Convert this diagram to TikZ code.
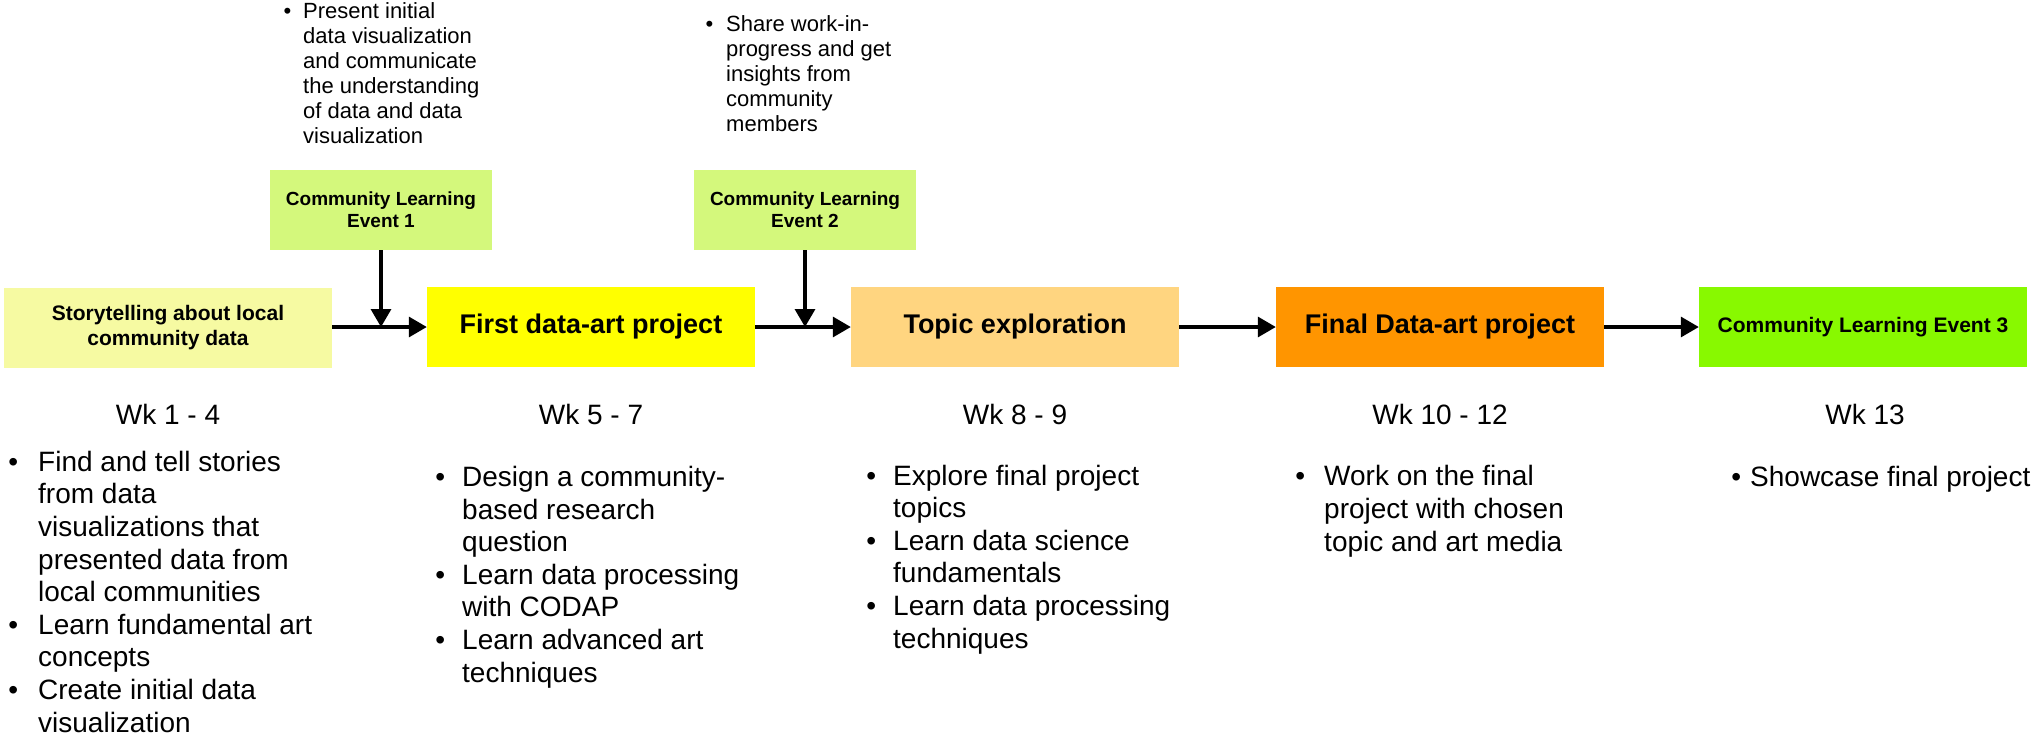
\documentclass[tikz,border=0pt]{standalone}
\usepackage{fontspec}
\setmainfont{Liberation Sans}
\usetikzlibrary{arrows.meta}

\definecolor{storyyellow}{HTML}{F6FAA2}
\definecolor{eventgreen}{HTML}{D4F87C}
\definecolor{projyellow}{HTML}{FFFF00}
\definecolor{topicorange}{HTML}{FFD580}
\definecolor{finalorange}{HTML}{FF9500}
\definecolor{showgreen}{HTML}{88F900}

% bullet hanging to the left of the text
\newcommand{\itm}[1][18pt]{\llap{\textbullet\hspace{#1}}}

\tikzset{
  phase/.style={minimum width=328pt, minimum height=80pt, inner sep=0pt, align=center,
                font=\bfseries\fontsize{27}{31}\selectfont},
  smallphase/.style={phase, font=\bfseries\fontsize{21}{25}\selectfont},
  event/.style={minimum width=222pt, minimum height=80pt, inner sep=0pt, align=center,
                fill=eventgreen, font=\bfseries\fontsize{19}{22}\selectfont},
  week/.style={anchor=base, inner sep=0pt, font=\fontsize{28}{32}\selectfont},
  % multi-line notes: base anchor sits on the last line
  notes/.style={anchor=base west, align=left, inner sep=0pt, font=\fontsize{28}{32.6}\selectfont},
  topnotes/.style={anchor=base west, align=left, inner sep=0pt, font=\fontsize{22}{25}\selectfont},
  flow/.style={line width=3.3pt, -{Triangle[length=18pt,width=20pt]}}
}

\begin{document}
\begin{tikzpicture}[x=1pt,y=-1pt]
	\useasboundingbox (0,0) rectangle (2032,737);

	% phases
	\node[smallphase, fill=storyyellow] (story) at (168,328) {Storytelling about local\\community data};
	\node[phase, fill=projyellow] (first) at (591,327) {First data-art project};
	\node[phase, fill=topicorange] (topic) at (1015,327) {Topic exploration};
	\node[phase, fill=finalorange] (final) at (1440,327) {Final Data-art project};
	\node[smallphase, fill=showgreen] (show) at (1863,327) {Community Learning Event 3};

	% community events
	\node[event] (cle1) at (381,210) {Community Learning\\Event 1};
	\node[event] (cle2) at (805,210) {Community Learning\\Event 2};

	\draw[flow] (story.east |- first.west) -- (first.west);
	\draw[flow] (first.east) -- (topic.west);
	\draw[flow] (topic.east) -- (final.west);
	\draw[flow] (final.east) -- (show.west);

	\coordinate (j1) at (cle1.south |- first.west);
	\coordinate (j2) at (cle2.south |- first.east);
	\draw[flow] (cle1.south) -- (j1);
	\draw[flow] (cle2.south) -- (j2);

	% event notes
	\node[topnotes] (note1) at (303,143) {\itm[12pt]Present initial\\data visualization\\and communicate\\the understanding\\of data and data\\visualization};
	\node[topnotes] (note2) at (726,131) {\itm[13pt]Share work-in-\\progress and get\\insights from\\community\\members};

	% weeks
	\node[week] (wk1) at (168,424) {Wk 1 - 4};
	\node[week] (wk2) at (591,424) {Wk 5 - 7};
	\node[week] (wk3) at (1015,424) {Wk 8 - 9};
	\node[week] (wk4) at (1440,424) {Wk 10 - 12};
	\node[week] (wk5) at (1865,424) {Wk 13};

	% activities
	\node[notes] (act1) at (38,732) {\itm[20pt]Find and tell stories\\from data\\visualizations that\\presented data from\\local communities\\
		\itm[20pt]Learn fundamental art\\concepts\\ \itm[20pt]Create initial data\\visualization};
	\node[notes] (act2) at (462,682) {\itm[17pt]Design a community-\\based research\\question\\
		\itm[17pt]Learn data processing\\with CODAP\\ \itm[17pt]Learn advanced art\\techniques};
	\node[notes] (act3) at (893,648) {\itm[17pt]Explore final project\\topics\\ \itm[17pt]Learn data science\\fundamentals\\
		\itm[17pt]Learn data processing\\techniques};
	\node[notes] (act4) at (1324,551) {\itm[19pt]Work on the final\\project with chosen\\topic and art media};
	\node[notes] (act5) at (1750,486) {\itm[9pt]Showcase final project};
\end{tikzpicture}
\end{document}
